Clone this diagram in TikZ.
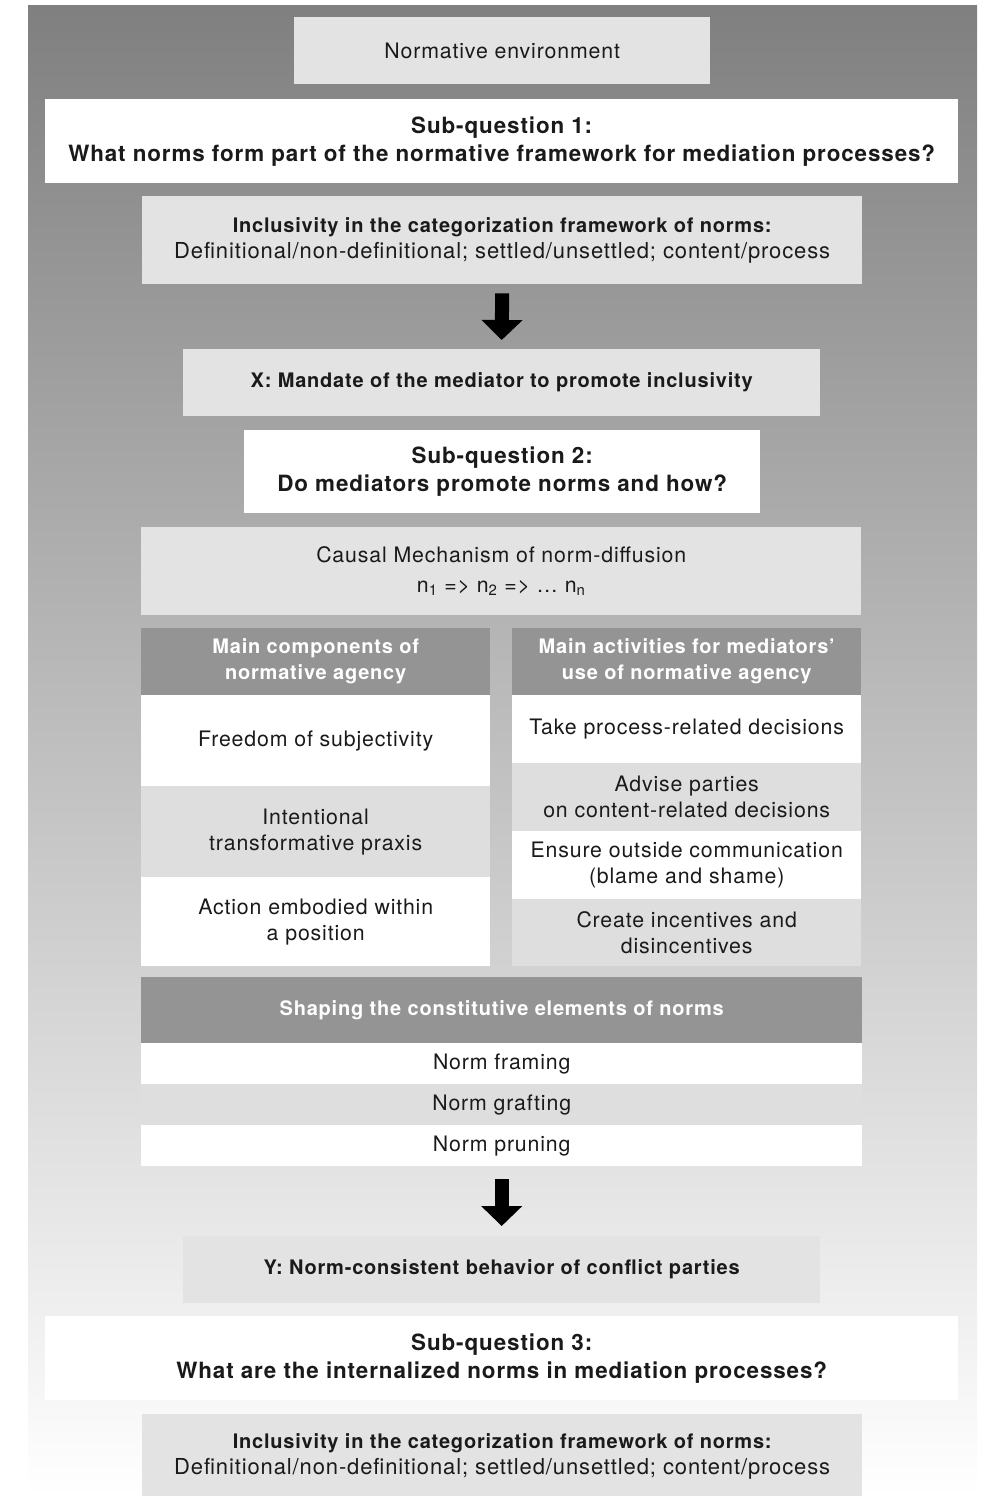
\documentclass[tikz,border=0pt]{standalone}
\usepackage{fontspec}
\setmainfont{TeX Gyre Heros}[LetterSpace=4]
\usetikzlibrary{arrows.meta}
\definecolor{lightbox}{RGB}{227,227,227}
\definecolor{rowgray}{RGB}{221,222,221}
\definecolor{headgray}{RGB}{148,148,148}
\definecolor{inkgray}{RGB}{26,26,26}
\newcommand{\boldsmall}{\fontsize{20}{26}\selectfont\bfseries}
\tikzset{
  cell/.style={rectangle,anchor=north west,inner sep=0pt,align=center,text=inkgray,
    font=\fontsize{21.3}{26}\selectfont},
  lightcell/.style={cell,fill=lightbox},
  whitecell/.style={cell,fill=white},
  graycell/.style={cell,fill=rowgray},
  headcell/.style={cell,fill=headgray,text=white,font=\boldsmall},
  question/.style={whitecell,font=\fontsize{22.4}{28}\selectfont\bfseries},
  inclcell/.style={lightcell,minimum width=720pt,font=\fontsize{22}{26}\selectfont},
  blockarrow/.style={line width=14pt,-{Triangle[width=40pt,length=20pt]}}
}
\begin{document}
\begin{tikzpicture}[x=1pt,y=-1pt]
\useasboundingbox (0,0) rectangle (985,1496);
\shade[top color=black!50,bottom color=white] (28,6) rectangle (977,1496);
% top part
\node[lightcell,minimum width=416pt,minimum height=67pt] (env) at (294,17) {Normative environment};
\node[question,minimum width=913pt,minimum height=84pt] (sq1) at (45,99)
  {Sub-question 1:\\What norms form part of the normative framework for mediation processes?};
\node[inclcell,minimum height=88pt] (incl1) at (142,196)
  {{\boldsmall Inclusivity in the categorization framework of norms:}\\Definitional/non-definitional; settled/unsettled; content/process};
\node[lightcell,minimum width=637pt,minimum height=67pt,font=\boldsmall] (mand) at (183,349)
  {X: Mandate of the mediator to promote inclusivity};
\node[question,minimum width=516pt,minimum height=83pt] (sq2) at (244,430)
  {Sub-question 2:\\Do mediators promote norms and how?};
\node[lightcell,minimum width=720pt,minimum height=88pt,font=\fontsize{21.3}{30}\selectfont] (causal) at (141,527)
  {Causal Mechanism of norm-diffusion\\n\textsubscript{1} => n\textsubscript{2} => \ldots{} n\textsubscript{n}};
% two columns
\node[headcell,minimum width=349pt,minimum height=67pt] (hleft) at (141,628)
  {Main components of\\normative agency};
\node[headcell,minimum width=349pt,minimum height=67pt] (hright) at (512,628)
  {Main activities for mediators’\\use of normative agency};
\node[whitecell,minimum width=349pt,minimum height=91pt] (l1) at (141,695) {Freedom of subjectivity};
\node[graycell,minimum width=349pt,minimum height=91pt] (l2) at (141,786) {Intentional\\transformative praxis};
\node[whitecell,minimum width=349pt,minimum height=89pt] (l3) at (141,877) {Action embodied within\\a position};
\node[whitecell,minimum width=349pt,minimum height=68pt] (r1) at (512,695) {Take process-related decisions};
\node[graycell,minimum width=349pt,minimum height=68pt] (r2) at (512,763) {Advise parties\\on content-related decisions};
\node[whitecell,minimum width=349pt,minimum height=68pt] (r3) at (512,831) {Ensure outside communication\\(blame and shame)};
\node[graycell,minimum width=349pt,minimum height=67pt] (r4) at (512,899) {Create incentives and\\disincentives};
% shaping block
\node[headcell,minimum width=721pt,minimum height=66pt] (shape) at (141,977)
  {Shaping the constitutive elements of norms};
\node[whitecell,minimum width=721pt,minimum height=41pt] (frame) at (141,1043) {Norm framing};
\node[graycell,minimum width=721pt,minimum height=41pt] (graft) at (141,1084) {Norm grafting};
\node[whitecell,minimum width=721pt,minimum height=41pt] (prune) at (141,1125) {Norm pruning};
% bottom part
\node[lightcell,minimum width=637pt,minimum height=67pt,font=\boldsmall] (yout) at (183,1236)
  {Y: Norm-consistent behavior of conflict parties};
\node[question,minimum width=913pt,minimum height=84pt] (sq3) at (45,1316)
  {Sub-question 3:\\What are the internalized norms in mediation processes?};
\node[inclcell,minimum height=84pt] (incl3) at (142,1414)
  {{\boldsmall Inclusivity in the categorization framework of norms:}\\Definitional/non-definitional; settled/unsettled; content/process};
% arrows
\draw[blockarrow] ([yshift=-9pt]incl1.south) -- ([yshift=9pt]mand.north);
\draw[blockarrow] ([yshift=-13pt]prune.south) -- ([yshift=10pt]yout.north);
\end{tikzpicture}
\end{document}
